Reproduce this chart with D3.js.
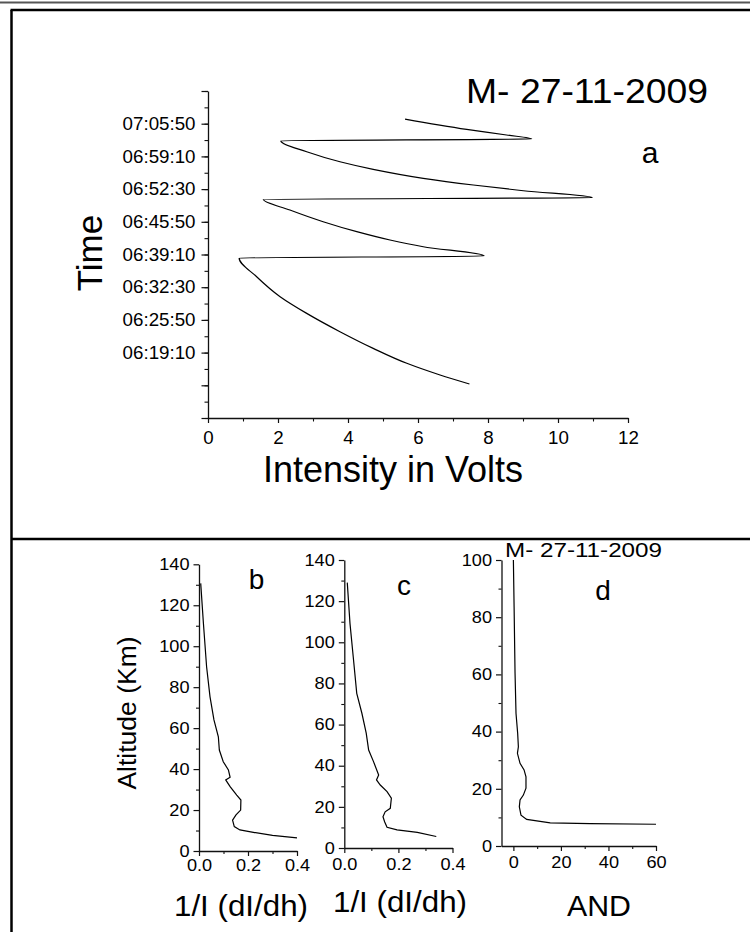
<!DOCTYPE html>
<html>
<head>
<meta charset="utf-8">
<script src="https://cdn.jsdelivr.net/npm/d3@7"></script>
<style>
body { margin: 0; background: #fff; }
text { font-family: "Liberation Sans", Arial, sans-serif; fill: #000; }
</style>
</head>
<body>
<div id="chart"></div>
<script>
// ---- panel a : intensity vs time ----
var timeA = ["06:12:46","06:14:36","06:16:59","06:20:02","06:23:26","06:27:10","06:30:34","06:34:38","06:38:27",
  "06:38:52","06:40:45","06:42:07","06:43:49","06:45:51","06:48:14","06:50:25",
  "06:50:45","06:52:10","06:53:20","06:54:42","06:56:32","06:58:05","07:00:07","07:02:22",
  "07:02:43","07:03:32","07:04:41","07:06:47"]
var voltsA = [7.47,6.63,5.68,4.72,3.77,2.82,2.06,1.39,0.89,
  7.89,6.15,5.2,4.25,3.29,2.34,1.58,
  10.98,9.01,7.58,6.15,4.72,3.77,2.82,2.08,
  9.25,8.53,7.39,5.63]
var timeLabels = ["06:19:10","06:25:50","06:32:30","06:39:10","06:45:50","06:52:30","06:59:10","07:05:50"]
var timeUnlabeled = ["06:05:50","06:12:30","07:12:30"]
var voltTicks = [0,2,4,6,8,10,12]

// ---- panels b, c, d : altitude profiles ----
var altB = [130.7,111.2,90,75.3,64,55.8,49.3,43.6,39.6,36,34.7,31.4,27.3,24.9,20,17.6,15.1,11.9,10.3,9.1,7.6,6.4]
var valB = [0.007,0.018,0.031,0.045,0.061,0.079,0.083,0.099,0.12,0.127,0.109,0.127,0.154,0.171,0.17,0.151,0.137,0.144,0.167,0.222,0.3,0.4]
var altC = [129,109.2,93,75.2,65.5,55.8,47.6,42,35.5,33.1,30.6,27.4,24.2,19.3,17.6,15.2,12.8,10.1,8.8,7.6,5.6]
var valC = [0.011,0.021,0.033,0.046,0.065,0.081,0.09,0.108,0.127,0.119,0.133,0.158,0.174,0.17,0.151,0.143,0.149,0.158,0.195,0.27,0.34]
var altD = [100,83.7,60.4,46.4,39.4,34.7,32.4,28.9,26.6,24.2,20.2,17.8,16.1,13.7,10.8,9.3,8.1,7.8,7.6]
var andD = [0,0.3,0.7,1.1,1.8,2.1,1.7,2.8,4.5,5.3,5.3,4.2,2.8,2.5,3.2,5.6,15.5,32.3,60]
var altTicksBC = [0,20,40,60,80,100,120,140]
var altTicksD = [0,20,40,60,80,100]
var gradTicks = [0,0.2,0.4]
var andTicks = [0,20,40,60]

var svg = d3.select("#chart").append("svg")
  .attr("width", 750)
  .attr("height", 932)

var parseT = d3.timeParse("%H:%M:%S")
var fmtT = d3.timeFormat("%H:%M:%S")

// frame
svg.append("line").attr("x1",0).attr("x2",750).attr("y1",2.5).attr("y2",2.5).attr("stroke","#555").attr("stroke-width",2)
svg.append("line").attr("x1",10.5).attr("x2",750).attr("y1",10).attr("y2",10).attr("stroke","#000").attr("stroke-width",2.5)
svg.append("line").attr("x1",11.5).attr("x2",11.5).attr("y1",10).attr("y2",932).attr("stroke","#000").attr("stroke-width",2.5)
svg.append("line").attr("x1",11.5).attr("x2",750).attr("y1",539).attr("y2",539).attr("stroke","#000").attr("stroke-width",2.5)

// widen glyphs a little, like the original
function stretch(sel, k) {
  sel.each(function () {
    var w = this.getComputedTextLength()
    if (w > 0) d3.select(this).attr("textLength", w * k).attr("lengthAdjust", "spacingAndGlyphs")
  })
}
function styleAxis(g, fs, k) {
  g.attr("font-size", fs)
  g.select(".domain").attr("stroke", "#111").attr("stroke-width", 1.3)
  g.selectAll(".tick line").attr("stroke", "#111").attr("stroke-width", 1.2)
  g.selectAll("text").attr("fill", "#000")
  stretch(g.selectAll("text"), k)
}
function minor(g, axis) {
  g.call(axis)
  g.select(".domain").remove()
  g.selectAll(".tick line").attr("stroke", "#111").attr("stroke-width", 1.1)
}

// ===== panel a =====
var xA = d3.scaleLinear().domain([0, 12]).range([208, 628])
var yA = d3.scaleTime().domain([parseT("06:05:50"), parseT("07:12:30")]).range([418, 91])

var majorT = timeUnlabeled.concat(timeLabels).map(parseT)
var labelSet = new Set(timeLabels)
var minorT = d3.range(yA.domain()[0].getTime(), yA.domain()[1].getTime() + 1, 200000).map(function (d) { return new Date(d) })

minor(svg.append("g").attr("transform", "translate(208,0)"),
  d3.axisLeft(yA).tickValues(minorT).tickSize(3.5).tickFormat(""))
var gyA = svg.append("g").attr("transform", "translate(208,0)")
  .call(d3.axisLeft(yA).tickValues(majorT).tickSize(6.5).tickSizeOuter(0).tickPadding(6)
    .tickFormat(function (d) { return labelSet.has(fmtT(d)) ? fmtT(d) : "" }))
styleAxis(gyA, 17.5, 1.07)

minor(svg.append("g").attr("transform", "translate(0,418)"),
  d3.axisBottom(xA).tickValues(d3.range(1, 12, 2)).tickSize(3.5).tickFormat(""))
var gxA = svg.append("g").attr("transform", "translate(0,418)")
  .call(d3.axisBottom(xA).tickValues(voltTicks).tickSize(5).tickSizeOuter(0).tickPadding(8))
styleAxis(gxA, 18, 1.04)

var lineA = d3.line()
  .x(function (d, i) { return xA(voltsA[i]) })
  .y(function (d) { return yA(parseT(d)) })
  .curve(d3.curveMonotoneY)
svg.append("path").datum(timeA)
  .attr("d", lineA)
  .attr("fill", "none").attr("stroke", "#000").attr("stroke-width", 1.2)

svg.append("text").attr("transform", "translate(102,253) rotate(-90)")
  .attr("text-anchor", "middle").attr("font-size", 35).text("Time")
svg.append("text").attr("x", 393).attr("y", 482).attr("text-anchor", "middle")
  .attr("font-size", 36).text("Intensity in Volts")
svg.append("text").attr("x", 466).attr("y", 103).attr("font-size", 35)
  .attr("textLength", 242).attr("lengthAdjust", "spacingAndGlyphs").text("M- 27-11-2009")
svg.append("text").attr("x", 650).attr("y", 163).attr("text-anchor", "middle")
  .attr("font-size", 30).text("a")

// ===== panels b, c, d =====
function profile(opt) {
  var x = d3.scaleLinear().domain(opt.xDomain).range(opt.xRange)
  var y = d3.scaleLinear().domain(opt.yDomain).range(opt.yRange)
  var x0 = opt.xRange[0], y0 = opt.yRange[0]

  minor(svg.append("g").attr("transform", "translate(" + x0 + ",0)"),
    d3.axisLeft(y).tickValues(opt.yMinor).tickSize(3).tickFormat(""))
  var gy = svg.append("g").attr("transform", "translate(" + x0 + ",0)")
    .call(d3.axisLeft(y).tickValues(opt.yTicks).tickSize(5.5).tickSizeOuter(0).tickPadding(4))
  styleAxis(gy, 16.5, 1.1)

  minor(svg.append("g").attr("transform", "translate(0," + y0 + ")"),
    d3.axisBottom(x).tickValues(opt.xMinor).tickSize(3).tickFormat(""))
  var gx = svg.append("g").attr("transform", "translate(0," + y0 + ")")
    .call(d3.axisBottom(x).tickValues(opt.xTicks).tickSize(5).tickSizeOuter(0).tickPadding(opt.xPad)
      .tickFormat(opt.xFormat))
  styleAxis(gx, 16.5, 1.1)

  var line = d3.line()
    .x(function (d, i) { return x(opt.vals[i]) })
    .y(function (d) { return y(d) })
  svg.append("path").datum(opt.alts)
    .attr("d", line)
    .attr("fill", "none").attr("stroke", "#000").attr("stroke-width", 1.2)

  svg.append("text").attr("x", opt.letter[1]).attr("y", opt.letter[2])
    .attr("text-anchor", "middle").attr("font-size", 28).text(opt.letter[0])
  svg.append("text").attr("x", opt.title[1]).attr("y", opt.title[2])
    .attr("text-anchor", "middle").attr("font-size", 29)
    .attr("textLength", opt.title[3]).attr("lengthAdjust", "spacingAndGlyphs")
    .text(opt.title[0])
}

profile({
  xDomain: [0, 0.4], xRange: [199, 297], yDomain: [0, 140], yRange: [851, 564.3],
  xTicks: gradTicks, xMinor: [0.1, 0.3], yTicks: altTicksBC, yMinor: d3.range(10, 140, 20),
  xFormat: d3.format(".1f"), xPad: 3.5,
  alts: altB, vals: valB, letter: ["b", 256.5, 589], title: ["1/I (dI/dh)", 241, 916, 134]
})
profile({
  xDomain: [0, 0.4], xRange: [344.3, 452.5], yDomain: [0, 140], yRange: [848, 560],
  xTicks: gradTicks, xMinor: [0.1, 0.3], yTicks: altTicksBC, yMinor: d3.range(10, 140, 20),
  xFormat: d3.format(".1f"), xPad: 5,
  alts: altC, vals: valC, letter: ["c", 404, 595], title: ["1/I (dI/dh)", 400, 912, 134]
})
profile({
  xDomain: [-5, 60], xRange: [501.5, 656], yDomain: [0, 100], yRange: [846, 560],
  xTicks: andTicks, xMinor: [10, 30, 50], yTicks: altTicksD, yMinor: d3.range(10, 100, 20),
  xFormat: d3.format("d"), xPad: 5,
  alts: altD, vals: andD, letter: ["d", 603, 600], title: ["AND", 599, 916, 64]
})

svg.append("text").attr("transform", "translate(136,713) rotate(-90)")
  .attr("text-anchor", "middle").attr("font-size", 26.5).text("Altitude (Km)")
svg.append("text").attr("x", 505).attr("y", 557).attr("font-size", 20)
  .attr("textLength", 157).attr("lengthAdjust", "spacingAndGlyphs").text("M- 27-11-2009")
</script>
</body>
</html>
